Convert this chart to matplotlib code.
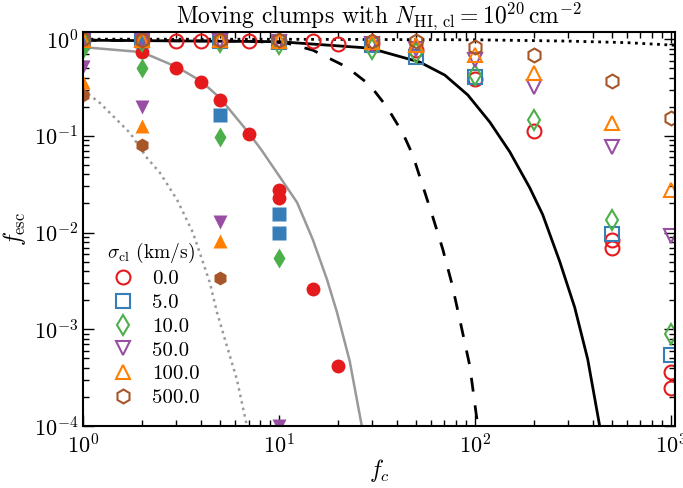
import numpy as np
import matplotlib
matplotlib.use("Agg")
import matplotlib.pyplot as plt

plt.rcParams['font.family'] = 'serif'
plt.rcParams['font.serif'] = ['cmr10', 'DejaVu Serif']
plt.rcParams['mathtext.fontset'] = 'cm'
plt.rcParams['axes.formatter.use_mathtext'] = True
plt.rcParams['axes.unicode_minus'] = False

# colours for the clump velocity dispersions
sigmas = ["0.0", "5.0", "10.0", "50.0", "100.0", "500.0"]
colors = ["#e41a1c", "#377eb8", "#4daf4a", "#984ea3", "#ff7f00", "#a65628"]
markers = ["o", "s", "d", "v", "^", "h"]

# open markers: moving clumps
fc_open = [1, 2, 5, 10, 30, 50, 100, 200, 500, 1000]
red_open_fc = [1, 2, 3, 4, 5, 7, 10, 15, 20, 30, 50, 100, 200, 500, 500, 1000, 1000]
red_open = [0.98, 0.97, 0.96, 0.96, 0.96, 0.96, 0.95, 0.95, 0.89, 0.92, 0.78,
            0.384, 0.111, 0.00834, 0.00696, 3.58e-4, 2.5e-4]
blue_open_fc = [1, 2, 5, 10, 30, 50, 100, 500, 1000]
blue_open = [0.98, 0.97, 0.95, 0.93, 0.88, 0.66, 0.406, 0.0097, 5.4e-4]
green_open = [0.97, 0.96, 0.93, 0.90, 0.80, 0.72, 0.425, 0.146, 0.0136, 8.9e-4]
purple_open = [0.98, 0.97, 0.95, 0.93, 0.90, 0.80, 0.608, 0.322, 0.0765, 0.0093]
orange_open = [0.99, 0.98, 0.97, 0.96, 0.93, 0.87, 0.684, 0.443, 0.135, 0.0273]
brown_open = [1.0, 0.99, 0.98, 0.97, 0.96, 0.95, 0.833, 0.684, 0.372, 0.152]

# filled markers: static clumps
red_fill_fc = [1, 2, 3, 4, 5, 7, 10, 10, 15, 20]
red_fill = [0.92, 0.73, 0.50, 0.36, 0.235, 0.105, 0.0277, 0.023, 0.00258, 4.2e-4]
blue_fill_fc = [1, 2, 5, 10, 10]
blue_fill = [0.95, 0.95, 0.165, 0.0157, 0.0100]
green_fill_fc = [1, 2, 5, 10]
green_fill = [0.80, 0.50, 0.098, 0.0055]
purple_fill_fc = [1, 2, 5, 10]
purple_fill = [0.51, 0.199, 0.013, 1.0e-4]
orange_fill_fc = [1, 2, 5]
orange_fill = [0.36, 0.127, 0.0081]
brown_fill_fc = [1, 2, 5]
brown_fill = [0.265, 0.081, 0.0034]

# analytic curves
dotted_fc = [1, 10, 100, 300, 600, 1050]
dotted_f = [1.0, 0.998, 0.985, 0.955, 0.92, 0.865]
solid_fc = [1, 10.0, 29.1, 52.4, 70.3, 92.1, 119.3, 150.9, 190.8, 222.2,
            271.5, 323.7, 377.2, 434.2]
solid_f = [0.976, 0.942, 0.808, 0.579, 0.425, 0.265, 0.139, 0.0684, 0.0291,
           0.01534, 0.00502, 0.001686, 4.91e-4, 1.0e-4]
dashed_fc = [1, 7.11, 11.0, 14.9, 22.2, 29.1, 35.6, 42.9, 48.2, 52.4, 61.0,
             68.7, 76.3, 83.8, 94.3, 103.6]
dashed_f = [0.976, 0.953, 0.909, 0.77, 0.515, 0.336, 0.199, 0.107, 0.0637,
            0.0378, 0.0146, 0.0067, 0.0030, 0.00127, 4.2e-4, 1.0e-4]
gray_fc = [1, 2.0, 3.02, 4.0, 5.0, 6.95, 8.14, 10.1, 12.4, 14.9, 17.6, 19.8,
           23.0, 26.5]
gray_f = [0.827, 0.734, 0.515, 0.369, 0.247, 0.110, 0.0717, 0.0378, 0.0204,
          0.00847, 0.00328, 0.0015, 4.68e-4, 1.0e-4]
gdot_fc = [1, 1.22, 1.74, 2.12, 2.47, 3.02, 3.64, 4.44, 4.83, 5.43, 6.1, 6.87]
gdot_f = [0.298, 0.219, 0.107, 0.0593, 0.0416, 0.0219, 0.0100, 0.00305,
          0.0015, 6.7e-4, 3.05e-4, 1.0e-4]

fig = plt.figure(figsize=(6.83, 4.88), dpi=100)
ax = fig.add_axes([0.1215, 0.127, 0.8665, 0.807])

ax.plot(dotted_fc, dotted_f, color="black", ls=":", lw=2)
ax.plot(solid_fc, solid_f, color="black", ls="-", lw=2)
ax.plot(dashed_fc, dashed_f, color="black", ls=(0, (5, 5)), lw=2)
ax.plot(gray_fc, gray_f, color="#999999", ls="-", lw=1.8)
ax.plot(gdot_fc, gdot_f, color="#999999", ls=":", lw=1.8)

open_fc = [red_open_fc, blue_open_fc, fc_open, fc_open, fc_open, fc_open]
open_f = [red_open, blue_open, green_open, purple_open, orange_open, brown_open]
fill_fc = [red_fill_fc, blue_fill_fc, green_fill_fc, purple_fill_fc,
           orange_fill_fc, brown_fill_fc]
fill_f = [red_fill, blue_fill, green_fill, purple_fill, orange_fill, brown_fill]

for i in range(6):
    ax.plot(fill_fc[i], fill_f[i], ls="none", marker=markers[i], ms=10,
            color=colors[i], mec="none")
for i in range(6):
    ax.plot(open_fc[i], open_f[i], ls="none", marker=markers[i], ms=10,
            mfc="none", mec=colors[i], mew=1.5, label=sigmas[i])

ax.set_xscale("log")
ax.set_yscale("log")
ax.set_xlim(1, 1050)
ax.set_ylim(1e-4, 1.18)
ax.tick_params(which="both", direction="in", top=True, right=True, labelsize=16)
ax.tick_params(axis="x", which="major", pad=5)
ax.tick_params(which="major", length=8, width=1)
ax.tick_params(which="minor", length=4, width=1)
for s in ax.spines.values():
    s.set_linewidth(1.5)

ax.set_xlabel(r"$f_c$", fontsize=17, labelpad=0)
ax.set_ylabel(r"$f_{\rm esc}$", fontsize=17)
ax.set_title(r"Moving clumps with $N_{\rm HI,\,cl} = 10^{20}\,{\rm cm}^{-2}$", fontsize=17)

leg = ax.legend(loc="lower left", frameon=False, fontsize=15, numpoints=1,
                title=r"$\sigma_{\rm cl}$ (km/s)", handletextpad=0.4,
                labelspacing=0.25, bbox_to_anchor=(0.0, 0.0))
leg.get_title().set_fontsize(14)

fig.savefig("out.png", dpi=100)
